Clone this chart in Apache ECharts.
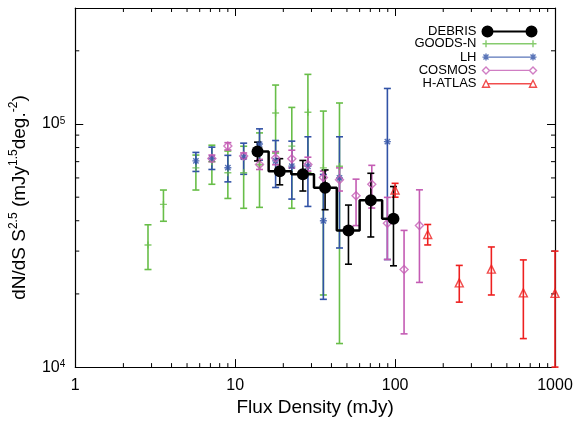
<!DOCTYPE html>
<html>
<head>
<meta charset="utf-8">
<script src="https://cdn.jsdelivr.net/npm/echarts@6/dist/echarts.min.js"></script>
<style>html,body{margin:0;padding:0;background:#fff}#c{width:577px;height:422px}</style>
</head>
<body>
<div id="c"></div>
<script>
// ---- data ----
const debrisX  = [13.8, 19.0, 26.5, 36.5, 51.1, 70.5, 97.7];
const debrisY  = [77000, 63900, 62100, 54700, 36500, 48600, 40800];
const debrisHi = [84200, 72000, 70800, 64700, 46400, 62700, 55300];
const debrisLo = [70500, 56200, 53000, 44400, 26500, 34300, 26100];

const goodsX  = [2.85, 3.56, 5.68, 7.15, 9.0, 11.3, 14.2, 17.9, 22.6, 28.5, 35.6, 44.9];
const goodsY  = [31800, 46700, 66000, 70000, 63000, 63000, 68000, 111000, 81100, 111700, 66000, 67000];
const goodsHi = [38500, 53500, 74500, 81800, 77400, 81000, 91900, 144600, 117000, 160000, 113000, 122000];
const goodsLo = [25200, 39800, 53500, 56500, 49400, 45000, 45400, 76000, 45000, 63000, 19800, 12500];

const lhX  = [5.68, 7.15, 9.0, 11.3, 14.2, 17.9, 22.6, 28.5, 35.6, 44.9, 89.5];
const lhY  = [70500, 72100, 66100, 73000, 82700, 70500, 67100, 67000, 40000, 60000, 84600];
const lhHi = [76400, 80300, 74300, 83400, 95500, 85500, 85000, 88600, 62000, 88600, 140000];
const lhLo = [63800, 65000, 57800, 62100, 71000, 54800, 49100, 45800, 19000, 30900, 27700];

const cosmosX  = [7.15, 9.0, 11.3, 14.2, 17.9, 22.6, 28.5, 35.6, 44.9, 57.0, 71.5, 89.5, 113.8, 142];
const cosmosY  = [72100, 81100, 73800, 68200, 72500, 72000, 68200, 60200, 59000, 50700, 56500, 39100, 25200, 38200];
const cosmosHi = [74500, 83800, 76000, 71500, 77000, 78000, 73000, 64000, 66000, 59300, 67600, 49900, 36500, 53600];
const cosmosLo = [69900, 78200, 72000, 65000, 68000, 66000, 64000, 55000, 53000, 38200, 45100, 27700, 13700, 22300];

const hatlasX  = [100, 160, 252, 400, 634, 1000];
const hatlasY  = [53500, 35100, 22200, 25300, 20200, 20100];
const hatlasHi = [57000, 38600, 26200, 31200, 27600, 30000];
const hatlasLo = [50000, 31800, 18500, 19800, 13100, 10000];

const xRange = [1, 1000];
const yRange = [10000, 300000];
const xMinorTicks = [2,3,4,5,6,7,8,9,20,30,40,50,60,70,80,90,200,300,400,500,600,700,800,900];
const yMinorTicks = [20000,30000,40000,50000,60000,70000,80000,90000,200000];

const legendNames = ['DEBRIS', 'GOODS-N', 'LH', 'COSMOS', 'H-ATLAS'];

// ---- styles ----
const C = { debris: '#000000', goods: '#68be48', lh: '#3152a6', cosmos: '#c45cb4', hatlas: '#ee2020' };
const FONT = 'Liberation Sans';

const zip = (a, b) => a.map((v, i) => [v, b[i]]);
const zip3 = (a, b, c) => a.map((v, i) => [v, b[i], c[i]]);

function errorBars(name, xs, lo, hi, color, width, cap) {
  return {
    type: 'custom', name: name + '-err', silent: true,
    data: zip3(xs, lo, hi),
    encode: { x: 0, y: [1, 2] },
    renderItem: function (params, api) {
      const x = api.value(0);
      const p1 = api.coord([x, api.value(1)]);
      const p2 = api.coord([x, api.value(2)]);
      const st = { stroke: color, lineWidth: width };
      return { type: 'group', children: [
        { type: 'line', shape: { x1: p1[0], y1: p1[1], x2: p2[0], y2: p2[1] }, style: st },
        { type: 'line', shape: { x1: p1[0] - cap, y1: p1[1], x2: p1[0] + cap, y2: p1[1] }, style: st },
        { type: 'line', shape: { x1: p2[0] - cap, y1: p2[1], x2: p2[0] + cap, y2: p2[1] }, style: st }
      ]};
    }
  };
}

function markers(name, xs, ys, symbol, size, color) {
  return {
    type: 'scatter', name: name, data: zip(xs, ys), symbol: symbol, symbolSize: size,
    itemStyle: { color: 'rgba(0,0,0,0)', borderColor: color, borderWidth: 1.4 },
    emphasis: { disabled: true }, z: 3
  };
}

const plusPath = 'path://M0,5L10,5M5,0L5,10';
const starPath = 'path://M0,5L10,5M5,0L5,10M1.2,1.2L8.8,8.8M1.2,8.8L8.8,1.2';

// legend icons (54 x 10 box)
const bb = 'M27,0L27,0M27,10L27,10';
const legendIcons = {
  'DEBRIS': 'path://M0,5A5,5 0 1,1 10,5A5,5 0 1,1 0,5ZM44,5A5,5 0 1,1 54,5A5,5 0 1,1 44,5ZM10,5L44,5',
  'GOODS-N': 'path://M0,5L54,5M3.5,1.5L3.5,8.5M50.5,1.5L50.5,8.5' + bb,
  'LH': 'path://M0,5L54,5M3.5,1.5L3.5,8.5M1,2.5L6,7.5M1,7.5L6,2.5M50.5,1.5L50.5,8.5M48,2.5L53,7.5M48,7.5L53,2.5' + bb,
  'COSMOS': 'path://M0,5L3.5,1.5L7,5L3.5,8.5ZM47,5L50.5,1.5L54,5L50.5,8.5ZM7,5L47,5' + bb,
  'H-ATLAS': 'path://M0,8.5L3.5,1.5L7,8.5ZM47,8.5L50.5,1.5L54,8.5ZM5,5L49,5' + bb
};
const legendColors = { 'DEBRIS': C.debris, 'GOODS-N': C.goods, 'LH': C.lh, 'COSMOS': C.cosmos, 'H-ATLAS': C.hatlas };

function minorTickSeries(axis) {
  const vals = axis === 'x' ? xMinorTicks : yMinorTicks;
  return {
    type: 'custom', silent: true, name: 'minor-' + axis,
    data: vals.map(v => axis === 'x' ? [v, yRange[0]] : [xRange[0], v]),
    renderItem: function (params, api) {
      const cs = params.coordSys;
      const p = api.coord([api.value(0), api.value(1)]);
      const L = 4, st = { stroke: '#000', lineWidth: 1 };
      if (axis === 'x') {
        return { type: 'group', children: [
          { type: 'line', shape: { x1: p[0], y1: cs.y + cs.height, x2: p[0], y2: cs.y + cs.height - L }, style: st },
          { type: 'line', shape: { x1: p[0], y1: cs.y, x2: p[0], y2: cs.y + L }, style: st }
        ]};
      }
      return { type: 'group', children: [
        { type: 'line', shape: { x1: cs.x, y1: p[1], x2: cs.x + L, y2: p[1] }, style: st },
        { type: 'line', shape: { x1: cs.x + cs.width, y1: p[1], x2: cs.x + cs.width - L, y2: p[1] }, style: st }
      ]};
    }
  };
}

const isDecade = v => Math.abs(Math.log10(v) - Math.round(Math.log10(v))) < 1e-6;

const axisLineStyle = { lineStyle: { color: '#000', width: 1.2 } };

const option = {
  animation: false,
  backgroundColor: '#fff',
  textStyle: { fontFamily: FONT },
  grid: { left: 75, right: 22, top: 8, bottom: 51 },
  legend: {
    right: 38, top: 25, orient: 'vertical', align: 'right',
    itemWidth: 54, itemHeight: 10, itemGap: -1.7, padding: 0,
    selectedMode: false, symbolKeepAspect: false,
    textStyle: { fontFamily: FONT, fontSize: 13, color: '#000', lineHeight: 12, padding: [0, 1, 0, 0] },
    data: legendNames.map(n => ({
      name: n, icon: legendIcons[n],
      itemStyle: n === 'DEBRIS'
        ? { color: C.debris, borderColor: C.debris, borderWidth: 2 }
        : { color: 'none', borderColor: legendColors[n], borderWidth: 1.4 }
    }))
  },
  xAxis: [{
    type: 'log', logBase: 10, min: xRange[0], max: xRange[1],
    name: 'Flux Density (mJy)', nameLocation: 'middle', nameGap: 26,
    nameTextStyle: { fontFamily: FONT, fontSize: 19, color: '#000' },
    axisLine: axisLineStyle,
    axisTick: { inside: true, length: 8, lineStyle: { color: '#000' } },
    axisLabel: { fontFamily: FONT, fontSize: 16, color: '#000', margin: 10,
      formatter: v => isDecade(v) ? String(Math.round(v)) : '' },
    splitLine: { show: false }
  }, {
    type: 'log', logBase: 10, min: xRange[0], max: xRange[1], position: 'top',
    axisLine: axisLineStyle,
    axisTick: { inside: true, length: 8, lineStyle: { color: '#000' } },
    axisLabel: { show: false }, splitLine: { show: false }
  }],
  yAxis: [{
    type: 'log', logBase: 10, min: yRange[0], max: yRange[1],
    name: 'dN/dS S{s|2.5} (mJy{s|1.5}deg.{s|-2})', nameLocation: 'middle', nameGap: 33,
    nameTextStyle: { fontFamily: FONT, fontSize: 19, color: '#000', lineHeight: 23, padding: [0, 20, 0, 0],
      rich: { s: { fontFamily: FONT, fontSize: 12, verticalAlign: 'top', lineHeight: 12, color: '#000' } } },
    axisLine: axisLineStyle,
    axisTick: { inside: true, length: 8, lineStyle: { color: '#000' } },
    axisLabel: { fontFamily: FONT, fontSize: 16, color: '#000', margin: 10,
      formatter: v => isDecade(v) ? '10{s|' + Math.round(Math.log10(v)) + '}' : '',
      rich: { s: { fontFamily: FONT, fontSize: 10, verticalAlign: 'top', lineHeight: 10, color: '#000' } } },
    splitLine: { show: false }
  }, {
    type: 'log', logBase: 10, min: yRange[0], max: yRange[1], position: 'right',
    axisLine: axisLineStyle,
    axisTick: { inside: true, length: 8, lineStyle: { color: '#000' } },
    axisLabel: { show: false }, splitLine: { show: false }
  }],
  series: [
    minorTickSeries('x'),
    minorTickSeries('y'),
    errorBars('GOODS-N', goodsX, goodsLo, goodsHi, C.goods, 1.6, 3.5),
    markers('GOODS-N', goodsX, goodsY, plusPath, 7, C.goods),
    errorBars('LH', lhX, lhLo, lhHi, C.lh, 1.6, 3.5),
    markers('LH', lhX, lhY, starPath, 7, C.lh),
    errorBars('COSMOS', cosmosX, cosmosLo, cosmosHi, C.cosmos, 1.6, 3.5),
    markers('COSMOS', cosmosX, cosmosY, 'diamond', [8, 8], C.cosmos),
    errorBars('H-ATLAS', hatlasX, hatlasLo, hatlasHi, C.hatlas, 1.6, 3.5),
    markers('H-ATLAS', hatlasX, hatlasY, 'triangle', 8, C.hatlas),
    errorBars('DEBRIS', debrisX, debrisLo, debrisHi, C.debris, 1.6, 3.5),
    {
      type: 'line', name: 'DEBRIS', data: zip(debrisX, debrisY), step: 'middle',
      symbol: 'circle', symbolSize: 12, showSymbol: true,
      lineStyle: { color: C.debris, width: 2.5 },
      itemStyle: { color: C.debris },
      emphasis: { disabled: true }, z: 4
    }
  ]
};

const chart = echarts.init(document.getElementById('c'), null, { renderer: 'canvas' });
chart.setOption(option);
</script>
</body>
</html>
